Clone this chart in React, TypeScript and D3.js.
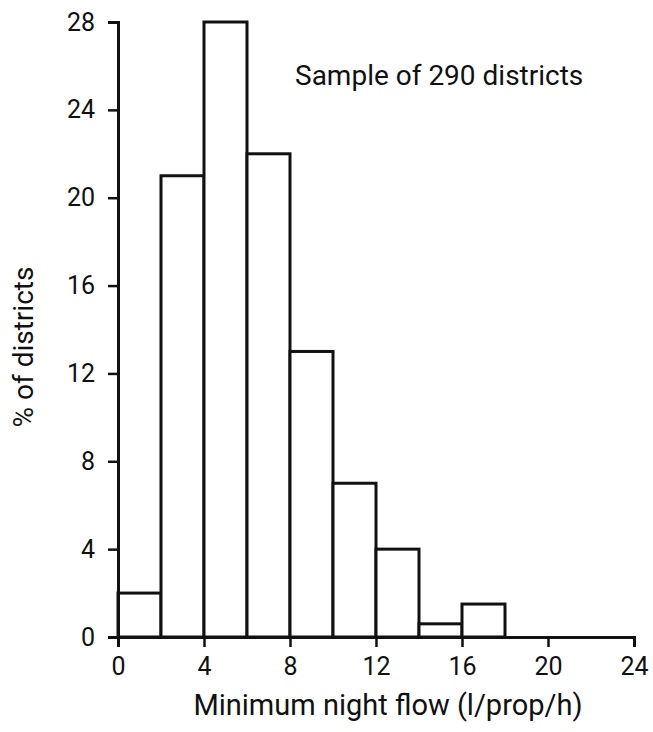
import React, { useRef, useEffect } from "react";
import * as d3 from "d3";

// histogram bins (l/prop/h) and % of districts
const binStarts = [0, 2, 4, 6, 8, 10, 12, 14, 16];
const binWidth = 2;
const percents = [2, 21, 28, 22, 13, 7, 4, 0.6, 1.5];

const xTicks = [0, 4, 8, 12, 16, 20, 24];
const yTicks = [0, 4, 8, 12, 16, 20, 24, 28];

const title = "Sample of 290 districts";
const xLabel = "Minimum night flow (l/prop/h)";
const yLabel = "% of districts";

function App() {
  const svgRef = useRef<SVGSVGElement>(null);

  useEffect(() => {
    const width = 653;
    const height = 732;
    const margin = { top: 22, right: 19, bottom: 95, left: 118 };
    const font = "Roboto, 'Open Sans', sans-serif";

    const svg = d3.select(svgRef.current);
    svg.selectAll("*").remove();
    svg.attr("width", width).attr("height", height);

    const innerWidth = width - margin.left - margin.right;
    const innerHeight = height - margin.top - margin.bottom;

    const chart = svg
      .append("g")
      .attr("transform", `translate(${margin.left},${margin.top})`);

    const x = d3.scaleLinear().domain([0, 24]).range([0, innerWidth]);
    const y = d3.scaleLinear().domain([0, 28]).range([innerHeight, 0]);

    /* bars */
    chart
      .selectAll(".bar")
      .data(binStarts)
      .enter()
      .append("rect")
      .attr("class", "bar")
      .attr("x", (d) => x(d))
      .attr("y", (d, i) => y(percents[i]))
      .attr("width", x(binWidth) - x(0))
      .attr("height", (d, i) => innerHeight - y(percents[i]))
      .attr("fill", "white")
      .attr("stroke", "#111")
      .attr("stroke-width", 3);

    /* y axis */
    chart
      .append("g")
      .call(d3.axisLeft(y).tickValues(yTicks).tickSize(10).tickPadding(13))
      .call((g) => g.select(".domain").attr("stroke", "#111").attr("stroke-width", 3))
      .call((g) => g.selectAll("line").attr("stroke", "#111").attr("stroke-width", 2.5))
      .call((g) =>
        g
          .selectAll("text")
          .attr("fill", "#111")
          .style("font-family", font)
          .style("font-size", "25px")
      );

    /* x axis */
    chart
      .append("g")
      .attr("transform", `translate(0,${innerHeight})`)
      .call(d3.axisBottom(x).tickValues(xTicks).tickSize(10).tickPadding(10))
      .call((g) => g.select(".domain").attr("stroke", "#111").attr("stroke-width", 3))
      .call((g) => g.selectAll("line").attr("stroke", "#111").attr("stroke-width", 2.5))
      .call((g) =>
        g
          .selectAll("text")
          .attr("fill", "#111")
          .style("font-family", font)
          .style("font-size", "25px")
      );

    /* labels */
    svg
      .append("text")
      .attr("x", 295)
      .attr("y", 85)
      .attr("fill", "#111")
      .style("font-family", font)
      .style("font-size", "28px")
      .text(title);

    svg
      .append("text")
      .attr("x", 388)
      .attr("y", 715)
      .attr("text-anchor", "middle")
      .attr("fill", "#111")
      .style("font-family", font)
      .style("font-size", "29px")
      .text(xLabel);

    svg
      .append("text")
      .attr("transform", "translate(33,347) rotate(-90)")
      .attr("text-anchor", "middle")
      .attr("fill", "#111")
      .style("font-family", font)
      .style("font-size", "28px")
      .text(yLabel);
  }, []);

  return (
    <div style={{ position: "absolute", left: 0, top: 0, background: "white" }}>
      <svg ref={svgRef}></svg>
    </div>
  );
}

export default App;
